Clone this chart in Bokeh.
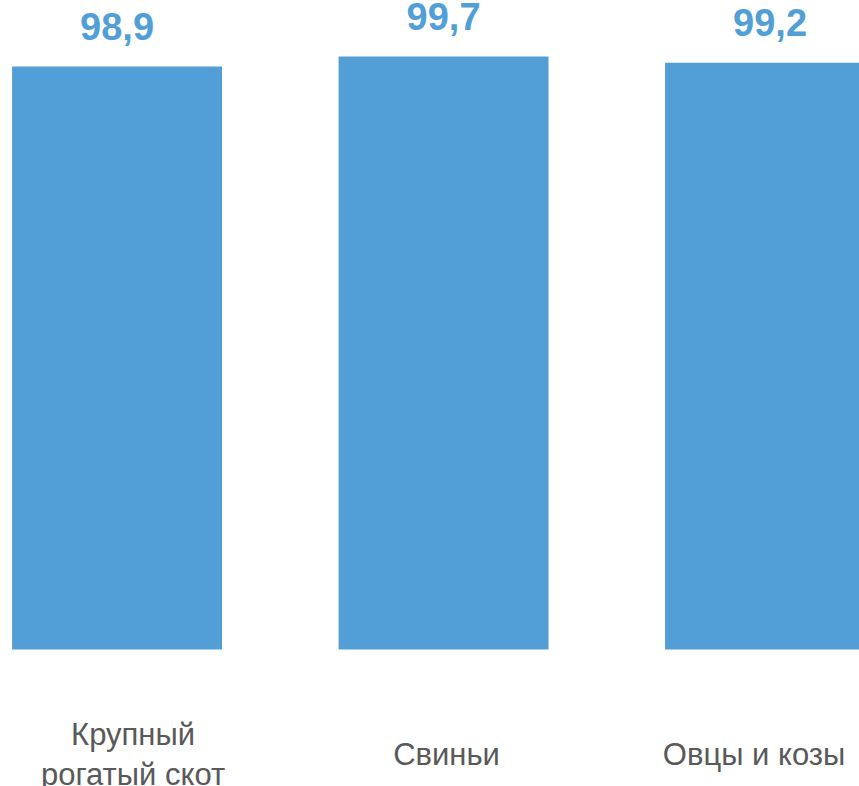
from bokeh.plotting import figure
from bokeh.models import Range1d, ColumnDataSource
from bokeh.core.properties import value
from bokeh.embed import file_html
from bokeh.resources import INLINE

categories = ["Крупный\nрогатый скот", "Свиньи", "Овцы и козы"]
values = [98.9, 99.7, 99.2]
value_labels = ["98,9", "99,7", "99,2"]
positions = [0, 1, 2]
baseline = 52.26

src = ColumnDataSource(dict(x=positions, top=values, lab=value_labels,
                            cat=categories, base=[baseline] * len(values)))
# small horizontal nudges of the category texts (screen px)
src.data["dx"] = [16, 3, -16]

p = figure(width=859, height=786, output_backend="svg", toolbar_location=None,
           x_range=Range1d(-0.357, 2.274), y_range=Range1d(41.3, 104.18),
           min_border=0, outline_line_color=None)
p.xaxis.visible = False
p.yaxis.visible = False
p.grid.visible = False

p.vbar(x="x", top="top", bottom="base", width=0.643, source=src,
       fill_color="#529FD7", line_color=None)

p.text(x="x", y="top", text="lab", source=src, text_align="center",
       text_baseline="alphabetic", y_offset=-40, text_color="#529FD7",
       text_font=value("Liberation Sans"), text_font_style="bold",
       text_font_size="38px")

p.text(x="x", y="base", text="cat", source=src, text_align="center",
       text_baseline="middle", y_offset=105, x_offset="dx", text_color="#595959",
       text_font=value("Liberation Sans"), text_font_size="31px",
       text_line_height=1.13)

open("out.html", "w").write(file_html(p, INLINE))
